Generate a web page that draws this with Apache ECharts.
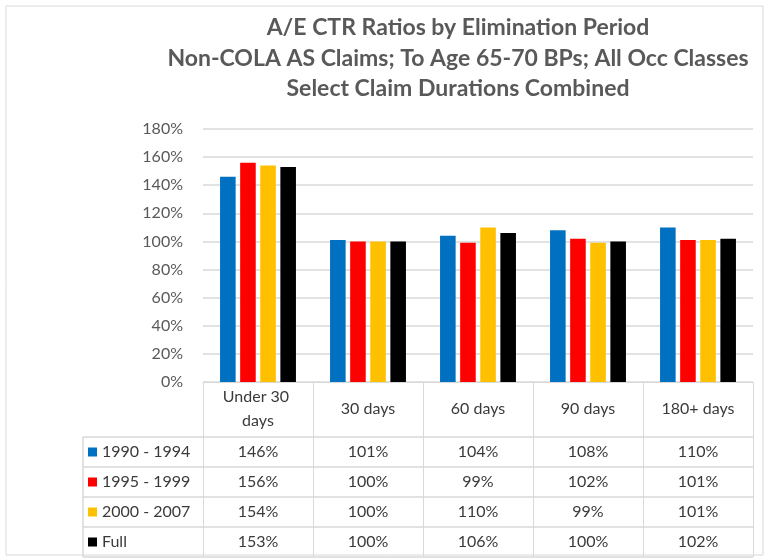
<!DOCTYPE html>
<html>
<head>
<meta charset="utf-8">
<script src="https://cdn.jsdelivr.net/npm/echarts@6/dist/echarts.min.js"></script>
<style>
  html, body { margin: 0; padding: 0; background: #fff; }
  #chart { width: 775px; height: 558px; }
</style>
</head>
<body>
<div id="chart"></div>
<script>
// data
const categories = ['Under 30 days', '30 days', '60 days', '90 days', '180+ days'];
const seriesNames = ['1990 - 1994', '1995 - 1999', '2000 - 2007', 'Full'];
const seriesColors = ['#0070C0', '#FF0000', '#FFC000', '#000000'];
const v1990 = [146, 101, 104, 108, 110];
const v1995 = [156, 100, 99, 102, 101];
const v2000 = [154, 100, 110, 99, 101];
const vFull = [153, 100, 106, 100, 102];
const allValues = [v1990, v1995, v2000, vFull];
const titleLines = [
  'A/E CTR Ratios by Elimination Period',
  'Non-COLA AS Claims; To Age 65-70 BPs; All Occ Classes',
  'Select Claim Durations Combined'
];

const font = 'Lato, "Open Sans", sans-serif';
const textColor = '#3a3a3a';
const lineColor = '#d9d9d9';

const chart = echarts.init(document.getElementById('chart'));

let option = {
  animation: false,
  backgroundColor: '#fff',
  grid: { left: 203, right: 22, top: 129, bottom: 176 },
  xAxis: {
    type: 'category',
    data: categories,
    axisLine: { lineStyle: { color: lineColor, width: 1 } },
    axisTick: { show: true, length: 175, lineStyle: { color: lineColor, width: 1 } },
    axisLabel: {
      interval: 0,
      margin: 27,
      verticalAlign: 'middle',
      width: 92,
      overflow: 'break',
      lineHeight: 24,
      fontSize: 16,
      fontFamily: font,
      color: textColor
    }
  },
  yAxis: {
    type: 'value',
    min: 0,
    max: 180,
    interval: 20,
    axisLine: { show: false },
    axisTick: { show: false },
    splitLine: { lineStyle: { color: lineColor, width: 1.5 } },
    axisLabel: {
      formatter: '{value}%',
      margin: 20,
      fontSize: 16,
      fontFamily: font,
      color: '#595959'
    }
  },
  series: seriesNames.map((name, i) => ({
    name: name,
    type: 'bar',
    data: allValues[i],
    barGap: '29%',
    barCategoryGap: '31%',
    itemStyle: { color: seriesColors[i] }
  }))
};
chart.setOption(option);

// title, frame and the data table under the axis
function buildTable() {
  const g = [];
  const tableRight = 753;
  const tableLeft = 83;
  const rowTop = 437;
  const rowH = 30;
  const xs = categories.map(c => chart.convertToPixel({ xAxisIndex: 0 }, c));

  titleLines.forEach((t, i) => {
    g.push({
      type: 'text', x: 458, y: 28 + i * 30.5,
      style: { text: t, align: 'center', verticalAlign: 'middle',
        fontSize: 23, fontWeight: 'bold', fontFamily: font, fill: '#595959' }
    });
  });

  g.push({ type: 'rect', shape: { x: 6, y: 6, width: 757, height: 549 },
    style: { fill: null, stroke: lineColor, lineWidth: 1 } });

  for (let r = 0; r <= seriesNames.length; r++) {
    const y = rowTop + r * rowH;
    g.push({ type: 'line', shape: { x1: tableLeft, y1: y, x2: tableRight, y2: y },
      style: { stroke: lineColor, lineWidth: 1.5 } });
  }
  g.push({ type: 'line', shape: { x1: tableLeft, y1: rowTop, x2: tableLeft, y2: rowTop + rowH * 4 },
    style: { stroke: lineColor, lineWidth: 1.5 } });

  seriesNames.forEach((name, r) => {
    const cy = rowTop + r * rowH + rowH / 2;
    g.push({ type: 'rect', shape: { x: 88, y: cy - 4.5, width: 9, height: 9 },
      style: { fill: seriesColors[r] } });
    g.push({ type: 'text', x: 102, y: cy,
      style: { text: name, verticalAlign: 'middle', fontSize: 16,
        fontFamily: font, fill: textColor } });
    allValues[r].forEach((v, c) => {
      g.push({ type: 'text', x: xs[c], y: cy,
        style: { text: v + '%', align: 'center', verticalAlign: 'middle',
          fontSize: 16, fontFamily: font, fill: textColor } });
    });
  });
  chart.setOption({ graphic: g });
}
buildTable();
</script>
</body>
</html>
